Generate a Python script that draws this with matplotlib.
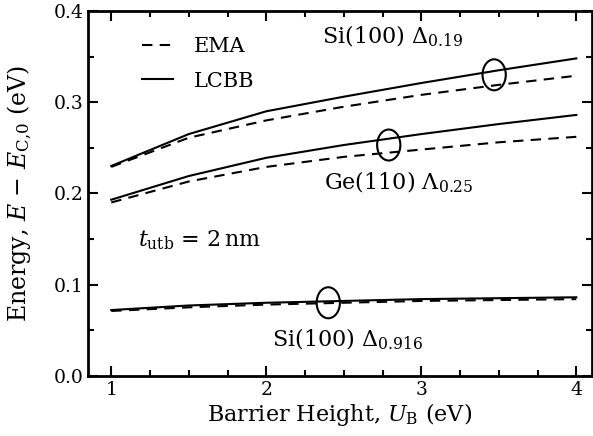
import numpy as np
import matplotlib
matplotlib.use("Agg")
import matplotlib.pyplot as plt
from matplotlib.patches import Ellipse
from matplotlib.ticker import MultipleLocator, FormatStrFormatter

plt.rcParams['font.family'] = ['DejaVu Serif']
plt.rcParams['mathtext.fontset'] = 'dejavuserif'

# barrier height (eV)
u_b = [1.0, 1.5, 2.0, 2.5, 3.0, 3.5, 4.0]

# subband energies (eV), LCBB vs EMA
si19_lcbb = [0.230, 0.265, 0.290, 0.306, 0.321, 0.335, 0.348]
si19_ema = [0.229, 0.261, 0.280, 0.295, 0.308, 0.319, 0.329]
ge25_lcbb = [0.193, 0.219, 0.239, 0.253, 0.265, 0.276, 0.286]
ge25_ema = [0.190, 0.213, 0.229, 0.240, 0.248, 0.256, 0.262]
si916_lcbb = [0.072, 0.077, 0.080, 0.082, 0.084, 0.085, 0.086]
si916_ema = [0.071, 0.075, 0.078, 0.080, 0.082, 0.083, 0.084]

fig = plt.figure(figsize=(5.93, 4.36), dpi=100)
ax = fig.add_axes([0.1484, 0.1383, 0.8496, 0.8365])

lw = 1.5
dash = (5, 3.5)
ax.plot(u_b, si19_ema, 'k--', lw=lw, dashes=dash, label='EMA')
ax.plot(u_b, si19_lcbb, 'k-', lw=lw, label='LCBB')
ax.plot(u_b, ge25_ema, 'k--', lw=lw, dashes=dash)
ax.plot(u_b, ge25_lcbb, 'k-', lw=lw)
ax.plot(u_b, si916_ema, 'k--', lw=lw, dashes=dash)
ax.plot(u_b, si916_lcbb, 'k-', lw=lw)

# circles marking each pair
for cx, cy in [(3.47, 0.330), (2.79, 0.253), (2.40, 0.080)]:
    ax.add_patch(Ellipse((cx, cy), 0.15, 0.034, fill=False, ec='k', lw=1.5))

fs = 16
ax.text(2.36, 0.372, r'Si(100) $\Delta_{0.19}$', fontsize=fs, va='center')
ax.text(2.37, 0.212, r'Ge(110) $\Lambda_{0.25}$', fontsize=fs, va='center')
ax.text(2.04, 0.040, r'Si(100) $\Delta_{0.916}$', fontsize=fs, va='center')
ax.text(1.17, 0.149, r'$t_{\mathrm{utb}}$ = 2$\,$nm', fontsize=fs, va='center')

leg = ax.legend(loc='upper left', bbox_to_anchor=(0.07, 0.98), frameon=False,
                fontsize=15, handlelength=1.5, handletextpad=1.0, labelspacing=0.75)

ax.set_xlim(0.85, 4.1)
ax.set_ylim(0.0, 0.4)
ax.xaxis.set_major_locator(MultipleLocator(1))
ax.xaxis.set_minor_locator(MultipleLocator(0.25))
ax.yaxis.set_major_locator(MultipleLocator(0.1))
ax.yaxis.set_minor_locator(MultipleLocator(0.05))
ax.yaxis.set_major_formatter(FormatStrFormatter('%.1f'))
ax.tick_params(which='both', direction='in', top=True, right=True, width=1.5,
               labelsize=13.5)
ax.tick_params(which='major', length=7)
ax.tick_params(which='minor', length=4)
for s in ax.spines.values():
    s.set_linewidth(2)

ax.set_xlabel(r'Barrier Height, $U_{\mathrm{B}}$ (eV)', fontsize=16, labelpad=2)
ax.set_ylabel(r'Energy, $E$ $-$ $E_{\mathrm{C{,}0}}$ (eV)', fontsize=17, labelpad=14)

fig.savefig('out.png', dpi=100)
